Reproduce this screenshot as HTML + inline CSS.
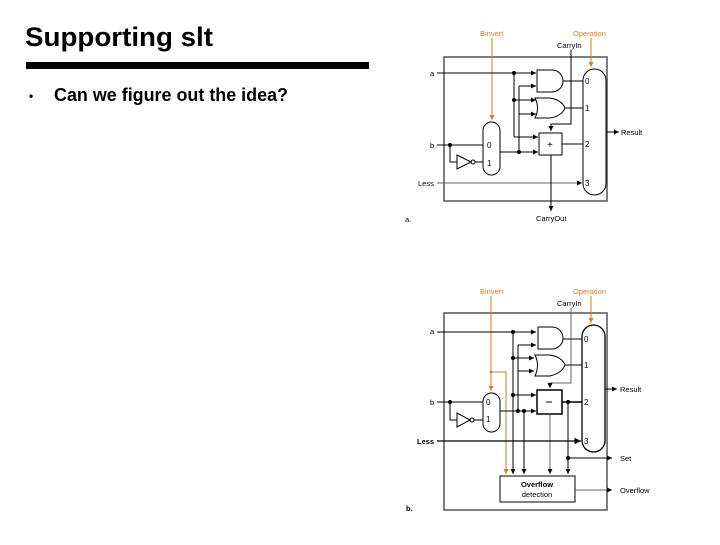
<!DOCTYPE html>
<html><head><meta charset="utf-8"><style>
body{margin:0;width:720px;height:540px;background:#fff;overflow:hidden;font-family:"Liberation Sans",sans-serif}
</style></head><body>
<svg width="720" height="540" viewBox="0 0 720 540" xmlns="http://www.w3.org/2000/svg" font-family="Liberation Sans, sans-serif">
<defs>
<marker id="ar" markerWidth="6" markerHeight="6" refX="5" refY="3" orient="auto"><path d="M0,0.5 L5,3 L0,5.5z" fill="#000"/></marker>
<marker id="ao" markerWidth="6" markerHeight="6" refX="5" refY="3" orient="auto"><path d="M0,0.5 L5,3 L0,5.5z" fill="#d08020"/></marker>
</defs>
<text x="25" y="46" font-size="27" font-weight="bold" textLength="188" lengthAdjust="spacingAndGlyphs">Supporting slt</text>
<rect x="26" y="62" width="343" height="7" fill="#000"/>
<text x="29" y="100" font-size="12" font-weight="bold">•</text>
<text x="54" y="101" font-size="18" font-weight="bold" textLength="234" lengthAdjust="spacingAndGlyphs">Can we figure out the idea?</text>

<!-- Diagram a -->
<g stroke="#000" fill="none" stroke-width="1" font-size="7.5">
<rect x="444" y="57" width="163" height="144" stroke="#555" stroke-width="1.5"/>
<text x="480" y="36" fill="#d08020" stroke="none">Binvert</text>
<text x="573" y="36" fill="#d08020" stroke="none">Operation</text>
<text x="557" y="48" fill="#000" stroke="none">CarryIn</text>
<line x1="492" y1="38" x2="492" y2="120" stroke="#d08020" marker-end="url(#ao)"/>
<line x1="591" y1="38" x2="591" y2="67" stroke="#d08020" marker-end="url(#ao)"/>
<text x="430" y="76" fill="#000" stroke="none">a</text>
<line x1="437" y1="73" x2="536" y2="73" marker-end="url(#ar)"/>
<line x1="514" y1="73" x2="514" y2="137"/>
<line x1="514" y1="100" x2="536" y2="100" marker-end="url(#ar)"/>
<line x1="514" y1="137" x2="538" y2="137" marker-end="url(#ar)"/>
<line x1="519" y1="86" x2="519" y2="152"/>
<line x1="519" y1="86" x2="536" y2="86" marker-end="url(#ar)"/>
<line x1="519" y1="114" x2="536" y2="114" marker-end="url(#ar)"/>
<line x1="500" y1="152" x2="538" y2="152" marker-end="url(#ar)"/>
<circle cx="514" cy="73" r="1.5" fill="#000"/><circle cx="514" cy="100" r="1.5" fill="#000"/><circle cx="519" cy="152" r="1.5" fill="#000"/>
<path d="M537,70 H552 A11,11 0 0 1 552,92 H537 Z"/>
<path d="M535,98 H550 Q562,100 565,108 Q562,116 550,118 H535 Q540,108 535,98 Z"/>
<rect x="539" y="133" width="23" height="22"/>
<text x="547" y="148" font-size="10" fill="#000" stroke="none">+</text>
<polyline points="571,50 571,124 551,124 551,131" marker-end="url(#ar)"/>
<line x1="563" y1="81" x2="583" y2="81"/>
<line x1="565" y1="108" x2="583" y2="108"/>
<line x1="562" y1="144" x2="583" y2="144"/>
<rect x="583" y="69" width="23" height="126" rx="11.5" fill="#fff"/>
<g fill="#000" stroke="none" font-size="8"><text x="585" y="84">0</text><text x="585" y="111">1</text><text x="585" y="147">2</text><text x="585" y="186">3</text></g>
<line x1="606" y1="132" x2="619" y2="132" marker-end="url(#ar)"/>
<text x="621" y="135" fill="#000" stroke="none">Result</text>
<text x="430" y="148" fill="#000" stroke="none">b</text>
<line x1="437" y1="145" x2="483" y2="145"/>
<polyline points="450,145 450,162 457,162"/>
<circle cx="450" cy="145" r="1.5" fill="#000"/>
<path d="M457,155 L471,162 L457,169 Z"/><circle cx="473" cy="162" r="2"/>
<line x1="475" y1="162" x2="483" y2="162"/>
<rect x="483" y="122" width="17" height="53" rx="8.5" fill="#fff"/>
<g fill="#000" stroke="none" font-size="8"><text x="487" y="148">0</text><text x="487" y="166">1</text></g>
<text x="418" y="186" fill="#000" stroke="none">Less</text>
<line x1="437" y1="183" x2="582" y2="183" stroke="#666" marker-end="url(#ar)"/>
<line x1="551" y1="155" x2="551" y2="211" marker-end="url(#ar)"/>
<text x="536" y="221" fill="#000" stroke="none">CarryOut</text>
<text x="405" y="222" fill="#000" stroke="none">a.</text>
</g>

<!-- Diagram b -->
<g stroke="#000" fill="none" stroke-width="1" font-size="7.5">
<rect x="444" y="313" width="163" height="197" stroke="#555" stroke-width="1.5"/>
<text x="480" y="294" fill="#d08020" stroke="none">Binvert</text>
<text x="573" y="294" fill="#d08020" stroke="none">Operation</text>
<text x="557" y="306" fill="#000" stroke="none">CarryIn</text>
<line x1="491" y1="296" x2="491" y2="391" stroke="#d08020" marker-end="url(#ao)"/>
<polyline points="491,372 506,372 506,474" stroke="#d08020" marker-end="url(#ao)"/>
<circle cx="491" cy="372" r="1.5" fill="#d08020" stroke="none"/>
<line x1="591" y1="296" x2="591" y2="323" stroke="#d08020" marker-end="url(#ao)"/>
<text x="430" y="334" fill="#000" stroke="none">a</text>
<line x1="437" y1="332" x2="536" y2="332" marker-end="url(#ar)"/>
<line x1="513" y1="332" x2="513" y2="474" marker-end="url(#ar)"/>
<line x1="513" y1="358" x2="534" y2="358" marker-end="url(#ar)"/>
<line x1="513" y1="395" x2="536" y2="395" marker-end="url(#ar)"/>
<line x1="518" y1="345" x2="518" y2="411"/>
<line x1="518" y1="345" x2="536" y2="345" marker-end="url(#ar)"/>
<line x1="518" y1="371" x2="534" y2="371" marker-end="url(#ar)"/>
<line x1="500" y1="411" x2="536" y2="411" marker-end="url(#ar)"/>
<line x1="524" y1="411" x2="524" y2="474" marker-end="url(#ar)"/>
<circle cx="513" cy="332" r="1.5" fill="#000"/><circle cx="513" cy="358" r="1.5" fill="#000"/><circle cx="513" cy="395" r="1.5" fill="#000"/><circle cx="518" cy="411" r="1.5" fill="#000"/><circle cx="524" cy="411" r="1.5" fill="#000"/>
<path d="M538,327 H552 A11,11 0 0 1 552,349 H538 Z"/>
<path d="M535,355 H550 Q562,357 565,365 Q562,373 550,376 H535 Q540,365 535,355 Z"/>
<rect x="537" y="390" width="25" height="24" stroke-width="1.5"/>
<line x1="546" y1="402" x2="552" y2="402"/>
<polyline points="571,308 571,383 550,383 550,388" stroke="#666" marker-end="url(#ar)"/>
<line x1="563" y1="339" x2="582" y2="339"/>
<line x1="565" y1="365" x2="582" y2="365"/>
<line x1="562" y1="402" x2="582" y2="402" stroke-width="1.5"/>
<line x1="568" y1="402" x2="568" y2="474" marker-end="url(#ar)"/>
<circle cx="568" cy="402" r="1.5" fill="#000"/><circle cx="568" cy="458" r="1.5" fill="#000"/>
<line x1="568" y1="458" x2="612" y2="458" marker-end="url(#ar)"/>
<text x="620" y="461" fill="#000" stroke="none">Set</text>
<line x1="550" y1="414" x2="550" y2="474" stroke="#666" marker-end="url(#ar)"/>
<rect x="582" y="325" width="23" height="127" rx="11.5" fill="#fff" stroke-width="1.3"/>
<g fill="#000" stroke="none" font-size="8"><text x="584" y="342">0</text><text x="584" y="368">1</text><text x="584" y="405">2</text><text x="584" y="444">3</text></g>
<line x1="605" y1="389" x2="617" y2="389" marker-end="url(#ar)"/>
<text x="620" y="392" fill="#000" stroke="none">Result</text>
<text x="430" y="405" fill="#000" stroke="none">b</text>
<line x1="437" y1="402" x2="483" y2="402"/>
<polyline points="450,402 450,420 457,420"/>
<circle cx="450" cy="402" r="1.5" fill="#000"/>
<path d="M457,413 L470,420 L457,427 Z"/><circle cx="472" cy="420" r="2"/>
<line x1="474" y1="420" x2="483" y2="420"/>
<rect x="483" y="393" width="17" height="39" rx="8.5" fill="#fff"/>
<g fill="#000" stroke="none" font-size="8"><text x="486" y="405">0</text><text x="486" y="422">1</text></g>
<text x="417" y="444" fill="#000" stroke="none" font-weight="bold">Less</text>
<line x1="437" y1="441" x2="581" y2="441" stroke-width="1.3" marker-end="url(#ar)"/>
<rect x="500" y="476" width="75" height="26" fill="#fff"/>
<text x="537" y="487" text-anchor="middle" fill="#000" stroke="none" font-weight="bold">Overflow</text>
<text x="537" y="497" text-anchor="middle" fill="#000" stroke="none">detection</text>
<line x1="575" y1="490" x2="612" y2="490" stroke="#666" marker-end="url(#ar)"/>
<text x="620" y="493" fill="#000" stroke="none">Overflow</text>
<text x="406" y="511" fill="#000" stroke="none" font-weight="bold">b.</text>
</g>
</svg>
</body></html>
